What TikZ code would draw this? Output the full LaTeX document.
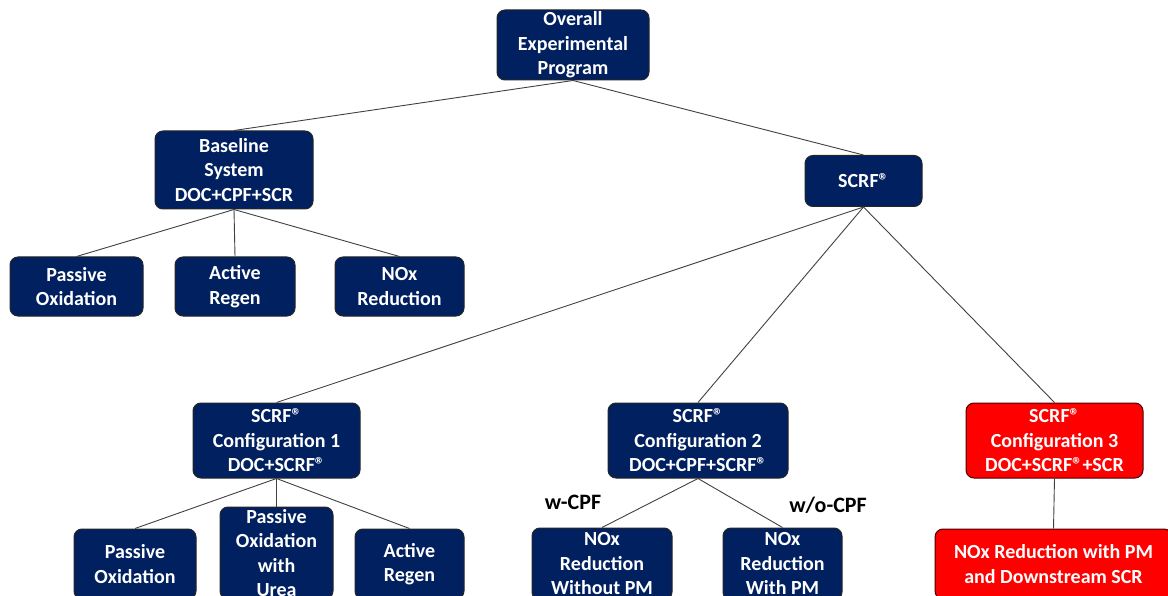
\documentclass[tikz,border=0pt]{standalone}
\usepackage{fontspec}
\setmainfont{Carlito}
\definecolor{navy}{HTML}{002060}
\definecolor{edgegray}{HTML}{404040}
\newcommand{\reg}{®}
\begin{document}
\begin{tikzpicture}[x=1pt,y=-1pt,
  box/.style={draw=black!85,line width=1pt,fill=navy,rounded corners=8pt,
    text=white,align=center,inner sep=0pt,
    font=\fontsize{20}{24.5}\selectfont\bfseries},
  redbox/.style={box,fill=red,draw=black!70!red},
  link/.style={draw=edgegray,line width=0.9pt},
  tag/.style={font=\fontsize{22}{26}\selectfont\bfseries,text=black}]
  \clip (0,0) rectangle (1168,596);
  \useasboundingbox (0,0) rectangle (1168,596);
  % top
  \node[box,minimum width=152,minimum height=70] (top) at (573,45)
    {Overall\\Experimental\\Program};
  \node[box,minimum width=158,minimum height=78] (base) at (234,170)
    {Baseline\\System\\DOC+CPF+SCR};
  \node[box,minimum width=117,minimum height=51] (scrf) at (863.5,181)
    {SCRF\reg};
  % baseline children
  \node[box,minimum width=133,minimum height=59] (bpo) at (76.5,286.5)
    {Passive\\Oxidation};
  \node[box,minimum width=120,minimum height=59] (bar) at (235,286.5)
    {Active\\Regen};
  \node[box,minimum width=129,minimum height=59] (bnox) at (399.5,286.5)
    {NOx\\Reduction};
  % configurations
  \node[box,minimum width=167,minimum height=75] (cfga) at (276.5,440.5)
    {SCRF\reg\\Configuration 1\\DOC+SCRF\reg};
  \node[box,minimum width=180,minimum height=75] (cfgb) at (698,440.5)
    {SCRF\reg\\Configuration 2\\DOC+CPF+SCRF\reg};
  \node[redbox,minimum width=177,minimum height=75] (cfgc) at (1054.5,440.5)
    {SCRF\reg\\Configuration 3\\DOC+SCRF\reg+SCR};
  % bottom row
  \node[box,minimum width=122,minimum height=70] (apo) at (135,564)
    {Passive\\Oxidation};
  \node[box,minimum width=113,minimum height=92] (apu) at (276.5,553)
    {Passive\\Oxidation\\with\\Urea};
  \node[box,minimum width=109,minimum height=70] (aar) at (409.5,564)
    {Active\\Regen};
  \node[box,minimum width=140,minimum height=72] (bwo) at (602,564)
    {NOx\\Reduction\\Without PM};
  \node[box,minimum width=119,minimum height=72] (bwi) at (782.5,564)
    {NOx\\Reduction\\With PM};
  \node[redbox,minimum width=237,minimum height=70] (cnox) at (1053.5,564)
    {NOx Reduction with PM\\and Downstream SCR};
  % connectors
  \draw[link] (top.south) -- (base.north);
  \draw[link] (top.south) -- (scrf.north);
  \foreach \k in {bpo,bar,bnox} \draw[link] (base.south) -- (\k.north);
  \foreach \k in {cfga,cfgb,cfgc} \draw[link] (scrf.south) -- (\k.north);
  \foreach \k in {apo,apu,aar} \draw[link] (cfga.south) -- (\k.north);
  \draw[link] (cfgb.south) -- (bwo.north);
  \draw[link] (cfgb.south) -- (bwi.north);
  \draw[link] (cfgc.south) -- (cnox.north);
  \node[tag] (wcpf) at (573,502) {w-CPF};
  \node[tag] (wocpf) at (828,505) {w/o-CPF};
\end{tikzpicture}
\end{document}
